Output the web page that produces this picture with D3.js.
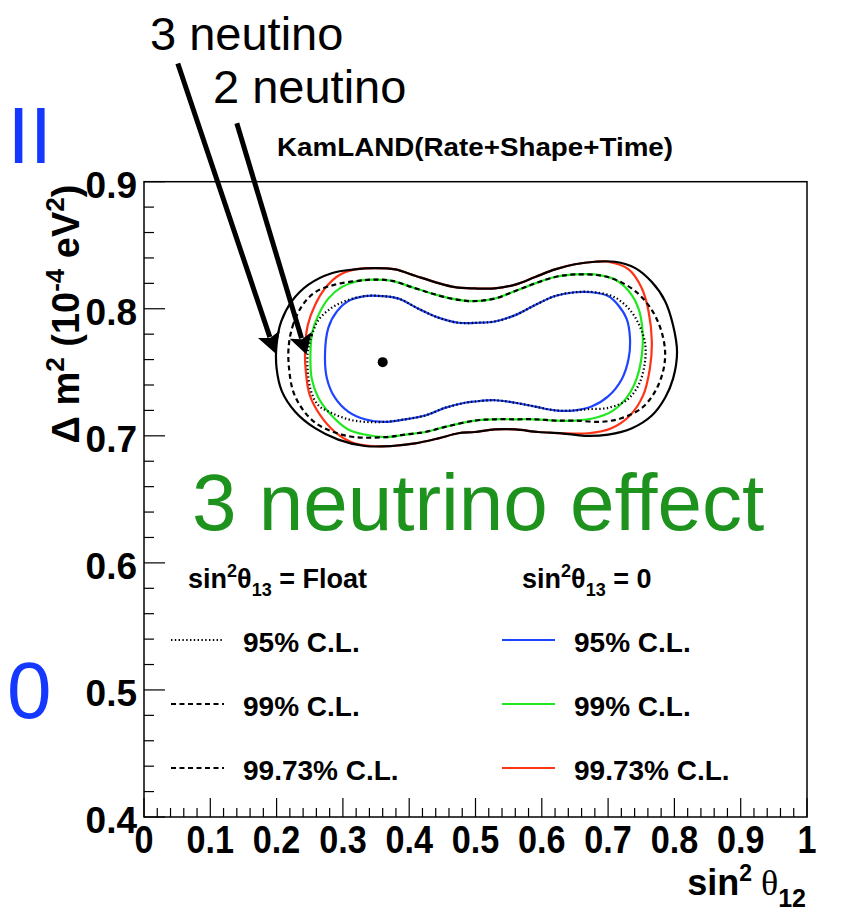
<!DOCTYPE html>
<html>
<head>
<meta charset="utf-8">
<script src="https://cdn.jsdelivr.net/npm/d3@7"></script>
<style>
  body { margin: 0; background: #fff; }
  svg { display: block; font-family: "Liberation Sans", Arial, Helvetica, sans-serif; }
</style>
</head>
<body>
<script>
// ---- data: [sin^2 theta12, dm^2 (1e-4 eV^2)] ----
const xTickValues = [0, 0.1, 0.2, 0.3, 0.4, 0.5, 0.6, 0.7, 0.8, 0.9, 1];
const xTickLabels = ["0", "0.1", "0.2", "0.3", "0.4", "0.5", "0.6", "0.7", "0.8", "0.9", "1"];
const yTickValues = [0.4, 0.5, 0.6, 0.7, 0.8, 0.9];
const yTickLabels = ["0.4", "0.5", "0.6", "0.7", "0.8", "0.9"];

const bestFit = [0.360, 0.758];

// sin^2 theta13 = 0 (2 neutrino)
const twoNu95 = [
  [0.273,0.764],[0.278,0.785],[0.291,0.798],[0.308,0.806],[0.333,0.810],[0.359,0.810],
  [0.384,0.808],[0.414,0.800],[0.444,0.793],[0.474,0.789],[0.504,0.789],[0.529,0.790],
  [0.560,0.795],[0.590,0.803],[0.620,0.810],[0.650,0.813],[0.675,0.813],[0.700,0.810],
  [0.715,0.803],[0.728,0.792],[0.733,0.777],[0.731,0.761],[0.721,0.745],[0.700,0.731],
  [0.675,0.723],[0.650,0.720],[0.620,0.720],[0.590,0.723],[0.560,0.726],[0.529,0.728],
  [0.499,0.727],[0.484,0.726],[0.454,0.722],[0.424,0.716],[0.394,0.713],[0.364,0.711],
  [0.333,0.713],[0.308,0.719],[0.288,0.730],[0.276,0.745]
];
const twoNu99 = [
  [0.251,0.764],[0.254,0.782],[0.263,0.795],[0.278,0.808],[0.298,0.817],[0.323,0.822],
  [0.348,0.823],[0.374,0.822],[0.404,0.817],[0.434,0.812],[0.464,0.808],[0.494,0.806],
  [0.529,0.808],[0.560,0.814],[0.590,0.820],[0.620,0.825],[0.650,0.827],[0.680,0.827],
  [0.710,0.823],[0.731,0.814],[0.746,0.800],[0.752,0.782],[0.751,0.764],[0.743,0.745],
  [0.728,0.730],[0.705,0.719],[0.680,0.714],[0.650,0.712],[0.620,0.712],[0.590,0.713],
  [0.560,0.713],[0.529,0.713],[0.499,0.712],[0.454,0.707],[0.424,0.703],[0.394,0.701],
  [0.364,0.699],[0.333,0.701],[0.308,0.705],[0.283,0.716],[0.263,0.730],[0.253,0.745]
];
const twoNu9973 = [
  [0.243,0.769],[0.247,0.787],[0.258,0.803],[0.273,0.816],[0.293,0.826],[0.318,0.831],
  [0.348,0.832],[0.379,0.831],[0.409,0.826],[0.439,0.821],[0.469,0.817],[0.499,0.816],
  [0.529,0.816],[0.560,0.819],[0.590,0.825],[0.620,0.831],[0.650,0.835],[0.680,0.837],
  [0.700,0.837],[0.731,0.831],[0.751,0.816],[0.761,0.798],[0.766,0.774],[0.763,0.753],
  [0.753,0.732],[0.733,0.716],[0.705,0.706],[0.670,0.702],[0.630,0.702],[0.595,0.703],
  [0.560,0.705],[0.529,0.705],[0.499,0.703],[0.474,0.702],[0.444,0.698],[0.409,0.694],
  [0.374,0.692],[0.343,0.692],[0.313,0.695],[0.288,0.703],[0.266,0.716],[0.250,0.732],
  [0.244,0.751]
];

// sin^2 theta13 = Float (3 neutrino)
const threeNu95 = [
  [0.247,0.766],[0.253,0.779],[0.263,0.791],[0.281,0.800],[0.303,0.806],[0.333,0.810],
  [0.359,0.810],[0.384,0.808],[0.414,0.800],[0.444,0.793],[0.474,0.789],[0.504,0.789],
  [0.529,0.790],[0.560,0.795],[0.590,0.803],[0.620,0.810],[0.650,0.813],[0.680,0.813],
  [0.710,0.809],[0.733,0.799],[0.748,0.786],[0.756,0.772],[0.755,0.756],[0.746,0.740],
  [0.728,0.728],[0.700,0.722],[0.670,0.721],[0.650,0.720],[0.620,0.720],[0.590,0.723],
  [0.560,0.726],[0.529,0.728],[0.499,0.727],[0.484,0.726],[0.454,0.722],[0.424,0.716],
  [0.394,0.713],[0.364,0.711],[0.333,0.711],[0.308,0.713],[0.283,0.718],[0.263,0.724],
  [0.252,0.735],[0.247,0.751]
];
const threeNu99 = [
  [0.218,0.769],[0.224,0.786],[0.238,0.802],[0.258,0.813],[0.288,0.819],[0.323,0.822],
  [0.348,0.823],[0.374,0.822],[0.404,0.817],[0.434,0.812],[0.464,0.808],[0.494,0.806],
  [0.529,0.808],[0.560,0.814],[0.590,0.820],[0.620,0.825],[0.650,0.827],[0.690,0.826],
  [0.715,0.822],[0.743,0.813],[0.766,0.799],[0.780,0.783],[0.786,0.766],[0.783,0.751],
  [0.771,0.735],[0.751,0.722],[0.721,0.714],[0.690,0.711],[0.650,0.712],[0.620,0.712],
  [0.590,0.713],[0.560,0.713],[0.529,0.713],[0.499,0.712],[0.454,0.707],[0.424,0.703],
  [0.394,0.701],[0.364,0.699],[0.318,0.699],[0.286,0.703],[0.259,0.710],[0.239,0.721],
  [0.225,0.735],[0.219,0.752]
];
const threeNu9973 = [
  [0.200,0.772],[0.207,0.790],[0.223,0.806],[0.248,0.819],[0.283,0.828],[0.318,0.831],
  [0.348,0.832],[0.379,0.831],[0.409,0.826],[0.439,0.821],[0.469,0.817],[0.499,0.816],
  [0.529,0.816],[0.560,0.819],[0.590,0.825],[0.620,0.831],[0.650,0.835],[0.680,0.837],
  [0.710,0.837],[0.741,0.832],[0.766,0.821],[0.786,0.806],[0.798,0.787],[0.804,0.766],
  [0.798,0.745],[0.786,0.730],[0.766,0.716],[0.736,0.706],[0.700,0.701],[0.665,0.700],
  [0.630,0.702],[0.595,0.703],[0.560,0.705],[0.529,0.705],[0.499,0.703],[0.474,0.702],
  [0.444,0.698],[0.409,0.694],[0.374,0.692],[0.333,0.692],[0.293,0.697],[0.258,0.706],
  [0.228,0.719],[0.208,0.735],[0.200,0.753]
];

const clLabels = ["95% C.L.", "99% C.L.", "99.73% C.L."];

// annotation arrows, in data units (tails sit above the frame)
const arrow3nu = [[0.051, 0.993], [0.198, 0.765]];
const arrow2nu = [[0.140, 0.946], [0.245, 0.764]];

// ---- drawing ----
const width = 847, height = 912;
const plot = { left: 144, right: 807, top: 181.7, bottom: 817 };

const svg = d3.select("body").append("svg")
  .attr("width", width)
  .attr("height", height);

const x = d3.scaleLinear().domain([0, 1]).range([plot.left, plot.right]);
const y = d3.scaleLinear().domain([0.4, 0.9]).range([plot.bottom, plot.top]);

const line = d3.line()
  .x(d => x(d[0]))
  .y(d => y(d[1]))
  .curve(d3.curveCatmullRomClosed.alpha(0.5));

const blue = "#1f44ff", green = "#1fe81f", red = "#ff3315";

// 2 neutrino contours first, 3 neutrino drawn on top
const contours = [
  { pts: twoNu95,    color: blue,  dash: null },
  { pts: twoNu99,    color: green, dash: null },
  { pts: twoNu9973,  color: red,   dash: null },
  { pts: threeNu95,  color: "#000", dash: "1.4,2.4" },
  { pts: threeNu99,  color: "#000", dash: "5,3.5" },
  { pts: threeNu9973,color: "#000", dash: null }
];

svg.append("g").selectAll("path")
  .data(contours)
  .join("path")
  .attr("d", d => line(d.pts))
  .attr("fill", "none")
  .attr("stroke", d => d.color)
  .attr("stroke-width", 2.2)
  .attr("stroke-dasharray", d => d.dash);

svg.append("circle")
  .attr("cx", x(bestFit[0]))
  .attr("cy", y(bestFit[1]))
  .attr("r", 5)
  .attr("fill", "#000");

// frame
svg.append("rect")
  .attr("x", plot.left).attr("y", plot.top)
  .attr("width", plot.right - plot.left)
  .attr("height", plot.bottom - plot.top)
  .attr("fill", "none")
  .attr("stroke", "#000")
  .attr("stroke-width", 1.5);

// y ticks (major 0.1, minor 0.02)
const yMinor = y.ticks(25);
svg.append("g").selectAll("line")
  .data(yMinor)
  .join("line")
  .attr("x1", plot.left)
  .attr("x2", d => plot.left + (yTickValues.some(v => Math.abs(v - d) < 1e-6) ? 21 : 10))
  .attr("y1", d => y(d)).attr("y2", d => y(d))
  .attr("stroke", "#000").attr("stroke-width", 1.2);

// x ticks
const xMinor = x.ticks(50);
svg.append("g").selectAll("line")
  .data(xMinor)
  .join("line")
  .attr("y1", plot.bottom)
  .attr("y2", d => plot.bottom - (xTickValues.some(v => Math.abs(v - d) < 1e-6) ? 19 : 9))
  .attr("x1", d => x(d)).attr("x2", d => x(d))
  .attr("stroke", "#000").attr("stroke-width", 1.2);

// tick labels
svg.append("g").selectAll("text")
  .data(yTickValues)
  .join("text")
  .attr("x", plot.left - 7)
  .attr("y", d => y(d) + 16)
  .attr("text-anchor", "end")
  .attr("font-size", 37)
  .attr("font-weight", "bold")
  .text((d, i) => yTickLabels[i]);

// x labels are a little narrower in the original
svg.append("g").selectAll("text")
  .data(xTickValues)
  .join("text")
  .attr("transform", d => `translate(${x(d)},${plot.bottom + 36}) scale(0.9,1)`)
  .attr("text-anchor", "middle")
  .attr("font-size", 38)
  .attr("font-weight", "bold")
  .text((d, i) => xTickLabels[i]);

// axis titles
const xt = svg.append("text")
  .attr("x", 806).attr("y", 895)
  .attr("text-anchor", "end")
  .attr("font-weight", "bold")
  .attr("font-size", 36);
xt.append("tspan").text("sin");
xt.append("tspan").attr("font-size", 23).attr("dy", -14).text("2");
xt.append("tspan").attr("dy", 14).attr("font-weight", "normal")
  .attr("font-family", "'Liberation Serif', 'Times New Roman', serif").text(" θ");
xt.append("tspan").attr("font-size", 25).attr("dy", 12).text("12");

const yt = svg.append("text")
  .attr("transform", "translate(79,314) rotate(-90)")
  .attr("text-anchor", "middle")
  .attr("font-weight", "bold")
  .attr("font-size", 38);
yt.append("tspan").text("Δ m");
yt.append("tspan").attr("font-size", 26).attr("dy", -15).text("2");
yt.append("tspan").attr("dy", 15).text(" (10");
yt.append("tspan").attr("font-size", 26).attr("dy", -15).text("-4");
yt.append("tspan").attr("dy", 15).text(" eV");
yt.append("tspan").attr("font-size", 26).attr("dy", -15).text("2");
yt.append("tspan").attr("dy", 15).text(")");

// title
svg.append("text")
  .attr("x", 277).attr("y", 156)
  .attr("font-size", 26)
  .attr("font-weight", "bold")
  .attr("textLength", 396)
  .attr("lengthAdjust", "spacingAndGlyphs")
  .text("KamLAND(Rate+Shape+Time)");

// legend
function legendHeader(xPos, tail) {
  const t = svg.append("text")
    .attr("x", xPos).attr("y", 588)
    .attr("font-size", 27)
    .attr("font-weight", "bold");
  t.append("tspan").text("sin");
  t.append("tspan").attr("font-size", 18).attr("dy", -11).text("2");
  t.append("tspan").attr("dy", 11).text("θ");
  t.append("tspan").attr("font-size", 18).attr("dy", 8).text("13");
  t.append("tspan").attr("dy", -8).text(tail);
}
legendHeader(188, " = Float");
legendHeader(522, " = 0");

const rowY = [640, 704, 768];
const floatDash = ["1.4,2.4", "5,3.5", "5,3.5"];
const zeroColor = [blue, green, red];

svg.append("g").selectAll("line")
  .data(clLabels)
  .join("line")
  .attr("x1", 171).attr("x2", 224)
  .attr("y1", (d, i) => rowY[i]).attr("y2", (d, i) => rowY[i])
  .attr("stroke", "#000").attr("stroke-width", 2)
  .attr("stroke-dasharray", (d, i) => floatDash[i]);

svg.append("g").selectAll("line")
  .data(clLabels)
  .join("line")
  .attr("x1", 502).attr("x2", 555)
  .attr("y1", (d, i) => rowY[i]).attr("y2", (d, i) => rowY[i])
  .attr("stroke", (d, i) => zeroColor[i]).attr("stroke-width", 2.2);

[243, 574].forEach(xPos => {
  svg.append("g").selectAll("text")
    .data(clLabels)
    .join("text")
    .attr("x", xPos)
    .attr("y", (d, i) => rowY[i] + 12)
    .attr("font-size", 28)
    .attr("font-weight", "bold")
    .text(d => d);
});

// big annotations
svg.append("text")
  .attr("x", 192).attr("y", 530)
  .attr("font-size", 80)
  .attr("fill", "#1d921d")
  .text("3 neutrino effect");

svg.append("text")
  .attr("x", 7.5).attr("y", 163)
  .attr("font-size", 80)
  .attr("fill", "#1538ff")
  .text("II");

svg.append("text")
  .attr("x", 7).attr("y", 718)
  .attr("font-size", 80)
  .attr("fill", "#1538ff")
  .text("0");

svg.append("text")
  .attr("x", 150).attr("y", 50)
  .attr("font-size", 47)
  .text("3 neutino");

svg.append("text")
  .attr("x", 213).attr("y", 103)
  .attr("font-size", 47)
  .text("2 neutino");

// arrows
function drawArrow(a) {
  const x0 = x(a[0][0]), y0 = y(a[0][1]);
  const x1 = x(a[1][0]), y1 = y(a[1][1]);
  const len = Math.hypot(x1 - x0, y1 - y0);
  const ux = (x1 - x0) / len, uy = (y1 - y0) / len;
  const headL = 20, headW = 11.5;
  const bx = x1 - ux * headL, by = y1 - uy * headL;
  svg.append("line")
    .attr("x1", x0).attr("y1", y0)
    .attr("x2", bx + ux * 3).attr("y2", by + uy * 3)
    .attr("stroke", "#000").attr("stroke-width", 5);
  svg.append("polygon")
    .attr("points", [
      [x1, y1],
      [bx - uy * headW, by + ux * headW],
      [bx + ux * 4, by + uy * 4],
      [bx + uy * headW, by - ux * headW]
    ].map(p => p.join(",")).join(" "))
    .attr("fill", "#000");
}
drawArrow(arrow3nu);
drawArrow(arrow2nu);
</script>
</body>
</html>
